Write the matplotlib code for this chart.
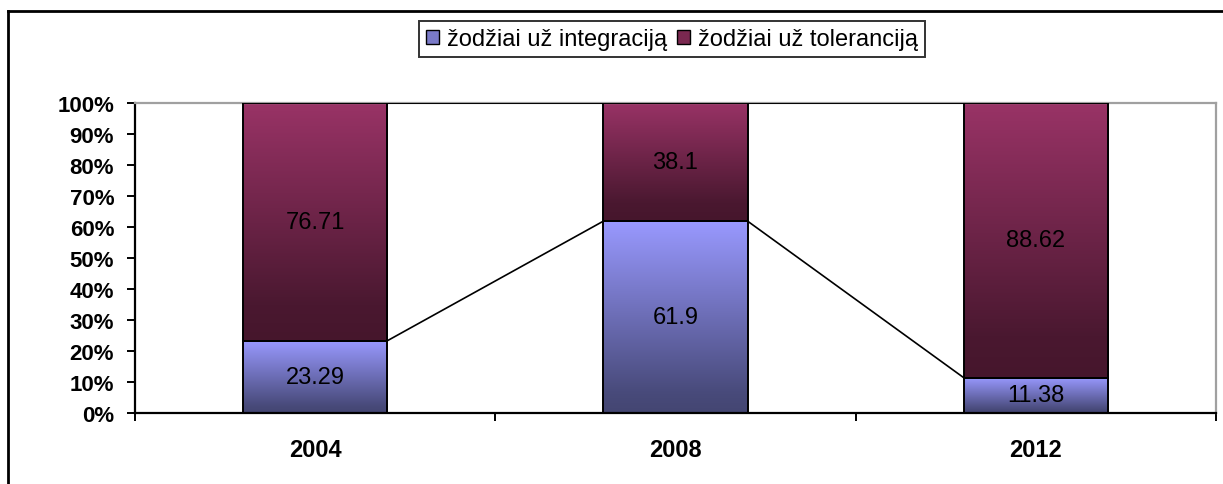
import numpy as np
import matplotlib.pyplot as plt
from matplotlib.colors import LinearSegmentedColormap
from matplotlib.patches import Patch
from matplotlib.lines import Line2D

plt.rcParams['font.family'] = ['Liberation Sans', 'DejaVu Sans']

years = ['2004', '2008', '2012']
integration = [23.29, 61.9, 11.38]
tolerance = [76.71, 38.1, 88.62]
series_names = ['žodžiai už integraciją', 'žodžiai už toleranciją']

# gradient colours (top of segment -> bottom of segment)
blue_grad = LinearSegmentedColormap.from_list('b', [(0, '#9999ff'), (0.9, '#484a7a'), (1, '#444672')])
red_grad = LinearSegmentedColormap.from_list('r', [(0, '#993366'), (0.85, '#4a1830'), (1, '#46162c')])

fig = plt.figure(figsize=(12.23, 4.85), dpi=100)
ax = fig.add_axes([135 / 1223, 1 - 414 / 485, (1216 - 135) / 1223, (414 - 104) / 485])

x = np.arange(len(years))
w = 0.4
tot = np.array(integration) + np.array(tolerance)
low = np.array(integration) / tot * 100
high = np.array(tolerance) / tot * 100

bars_low = ax.bar(x, low, w, facecolor='none', edgecolor='black', linewidth=1.4, zorder=3)
bars_high = ax.bar(x, high, w, bottom=low, facecolor='none', edgecolor='black', linewidth=1.4, zorder=3)

grad = np.linspace(0, 1, 256).reshape(-1, 1)
for bars, cmap in [(bars_low, blue_grad), (bars_high, red_grad)]:
    for b in bars:
        x0, y0 = b.get_x(), b.get_y()
        bw, bh = b.get_width(), b.get_height()
        im = ax.imshow(grad, cmap=cmap, aspect='auto', origin='upper',
                       extent=[x0, x0 + bw, y0, y0 + bh], zorder=2)
        im.set_clip_path(b)

# series lines between bars
for i in range(len(years) - 1):
    ax.plot([x[i] + w / 2, x[i + 1] - w / 2], [low[i], low[i + 1]], color='black', lw=1.2, zorder=4)
    ax.plot([x[i] + w / 2, x[i + 1] - w / 2], [100, 100], color='black', lw=1.4, zorder=4)

# data labels
for i in range(len(years)):
    ax.text(x[i], low[i] / 2, f'{integration[i]:g}', ha='center', va='center', fontsize=17, zorder=5)
    ax.text(x[i], low[i] + high[i] / 2, f'{tolerance[i]:g}', ha='center', va='center', fontsize=17, zorder=5)

ax.set_xlim(-0.5, 2.5)
ax.set_ylim(0, 100)
ax.set_yticks(np.arange(0, 101, 10))
ax.set_yticklabels([f'{v}%' for v in range(0, 101, 10)], fontsize=16, fontweight='bold')
ax.set_xticks([-0.5, 0.5, 1.5, 2.5])
ax.set_xticklabels([])
ax.set_xticks(x, minor=True)
ax.set_xticklabels(years, minor=True, fontsize=17, fontweight='bold')
ax.tick_params(axis='x', which='major', length=6, width=1.4, direction='out')
ax.tick_params(axis='x', which='minor', length=0, pad=18)
ax.tick_params(axis='y', length=6, width=1.4, direction='out', pad=9)

for s in ['left', 'bottom']:
    ax.spines[s].set_color('black')
    ax.spines[s].set_linewidth(1.6)
for s in ['top', 'right']:
    ax.spines[s].set_color('#a0a0a0')
    ax.spines[s].set_linewidth(1.6)

handles = [Patch(facecolor='#7a7ac8', edgecolor='black', lw=1.0),
           Patch(facecolor='#7a2850', edgecolor='black', lw=1.0)]
leg = fig.legend(handles, series_names, loc='center', bbox_to_anchor=(672 / 1223, 1 - 40 / 485),
                 ncol=2, fontsize=17, frameon=True, fancybox=False, edgecolor='black',
                 handlelength=0.55, handleheight=0.55, handletextpad=0.35, columnspacing=0.4,
                 borderpad=0.3, borderaxespad=0)
leg.get_frame().set_linewidth(1.4)

# outer chart border (left and top visible)
fig.add_artist(Line2D([8 / 1223, 8 / 1223], [0, 1 - 12 / 485], color='black', lw=2))
fig.add_artist(Line2D([8 / 1223, 1], [1 - 12 / 485, 1 - 12 / 485], color='black', lw=2))

fig.savefig('out.png', dpi=100)
